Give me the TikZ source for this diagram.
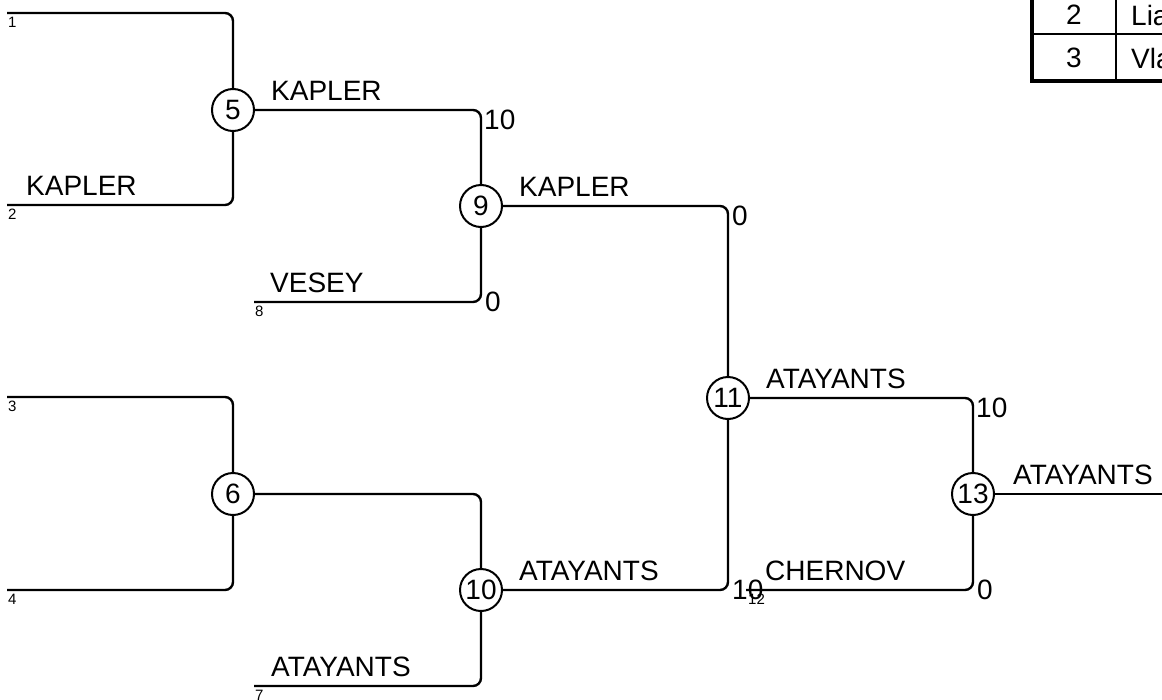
\documentclass[tikz,border=0pt]{standalone}
\usepackage{fontspec}
\setmainfont{Liberation Sans}
\begin{document}
\begin{tikzpicture}[x=1pt,y=-1pt,
  wire/.style={line width=2.4pt,rounded corners=8pt},
  match/.style={draw,circle,line width=2pt,minimum size=42pt,inner sep=0pt,fill=white,font=\fontsize{28}{32}\selectfont},
  player/.style={anchor=base west,inner sep=0pt,font=\fontsize{28}{32}\selectfont},
  score/.style={anchor=west,inner sep=0pt,font=\fontsize{28}{32}\selectfont},
  seed/.style={anchor=north west,inner sep=0pt,font=\fontsize{15}{17}\selectfont}]
\useasboundingbox (0,0) rectangle (1162,699);
\clip (0,0) rectangle (1162,699);

% entry lines
\coordinate (l1) at (7,13);
\coordinate (l2) at (7,205);
\coordinate (l3) at (7,397);
\coordinate (l4) at (7,590);
\coordinate (l8) at (254,302);
\coordinate (l7) at (254,686);
\coordinate (l12) at (746,590);
\coordinate (final) at (1170,494);

% matches
\node[match] (m5) at (233,110) {5};
\node[match] (m6) at (233,494) {6};
\node[match] (m9) at (481,206) {9};
\node[match] (m10) at (481,590) {10};
\node[match] (m11) at (728,398) {11};
\node[match] (m13) at (973,494) {13};

\draw[wire] (l1) -| (m5);
\draw[wire] (l2) -| (m5);
\draw[wire] (m5) -| (m9);
\draw[wire] (l8) -| (m9);
\draw[wire] (l3) -| (m6);
\draw[wire] (l4) -| (m6);
\draw[wire] (m6) -| (m10);
\draw[wire] (l7) -| (m10);
\draw[wire] (m9) -| (m11);
\draw[wire] (m10) -| (m11);
\draw[wire] (m11) -| (m13);
\draw[wire] (l12) -| (m13);
\draw[wire] (m13) -- (final);

% seeds
\node[seed] (s1) at ([shift={(1,4)}]l1) {1};
\node[seed] (s2) at ([shift={(1,4)}]l2) {2};
\node[seed] (s3) at ([shift={(1,4)}]l3) {3};
\node[seed] (s4) at ([shift={(1,4)}]l4) {4};
\node[seed] (s8) at ([shift={(1,4)}]l8) {8};
\node[seed] (s7) at ([shift={(1,4)}]l7) {7};
\node[seed] (s12) at ([shift={(2,4)}]l12) {12};

% names
\node[player] (p2) at ([shift={(19,-10)}]l2) {KAPLER};
\node[player] (p5) at ([shift={(16,-10)}]m5.east) {KAPLER};
\node[player] (p8) at ([shift={(16,-10)}]l8) {VESEY};
\node[player] (p9) at ([shift={(16,-10)}]m9.east) {KAPLER};
\node[player] (p7) at ([shift={(17,-10)}]l7) {ATAYANTS};
\node[player] (p10) at ([shift={(16,-10)}]m10.east) {ATAYANTS};
\node[player] (p11) at ([shift={(16,-10)}]m11.east) {ATAYANTS};
\node[player] (p12) at ([shift={(19,-10)}]l12) {CHERNOV};
\node[player] (p13) at ([shift={(18,-10)}]m13.east) {ATAYANTS};

% scores
\node[score] (r5) at ([shift={(3,10)}]m9 |- m5) {10};
\node[score] (r8) at ([shift={(4,0)}]m9 |- l8) {0};
\node[score] (r9) at ([shift={(4,10)}]m11 |- m9) {0};
\node[score] (r10) at ([shift={(4,0)}]m11 |- m10) {10};
\node[score] (r11) at ([shift={(3,10)}]m13 |- m11) {10};
\node[score] (r12) at ([shift={(4,0)}]m13 |- l12) {0};

% table
\draw[line width=1.5pt] (1116,-60) -- (1116,81);
\draw[line width=1.5pt] (1032,34) -- (1170,34);
\draw[line width=4pt] (1032,-60) -- (1032,81) -- (1170,81);
\node[score,anchor=center] (rank2) at (1074,15) {2};
\node[score,anchor=center] (rank3) at (1074,58) {3};
\node[score] (name2) at (1131,15) {Lia};
\node[score] (name3) at (1131,58) {Vla};
\end{tikzpicture}
\end{document}
